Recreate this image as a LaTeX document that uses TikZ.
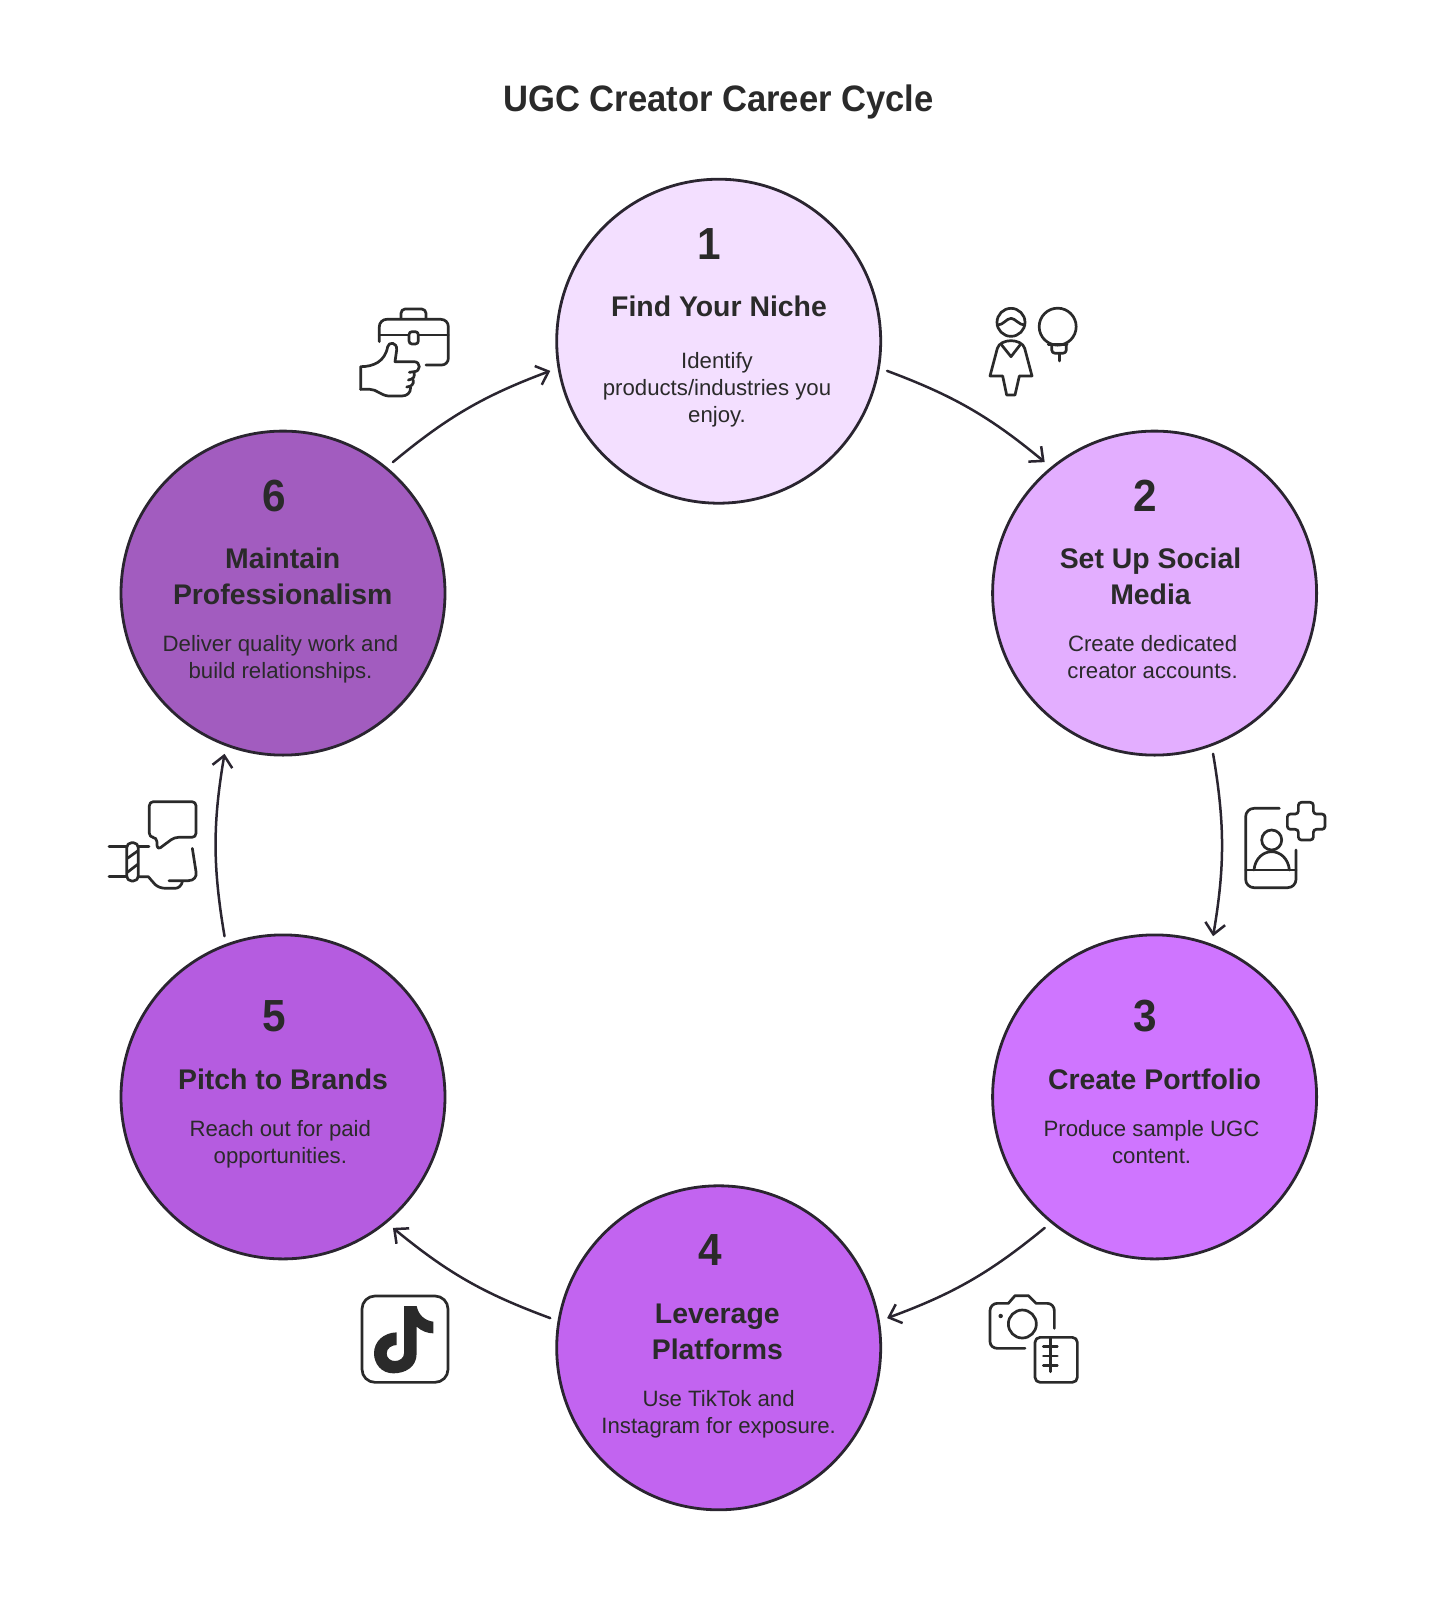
\documentclass[tikz,border=0pt]{standalone}
\usepackage{fontspec}
\setmainfont{Liberation Sans}
\newfontfamily\narrowf[FakeStretch=0.94]{Liberation Sans}
\usetikzlibrary{arrows.meta}
\definecolor{ink}{HTML}{2A2A2A}
\definecolor{edge}{HTML}{2A2530}
\definecolor{ca}{HTML}{F3DFFF}
\definecolor{cb}{HTML}{E3AEFF}
\definecolor{cc}{HTML}{CF75FF}
\definecolor{cd}{HTML}{C264F0}
\definecolor{ce}{HTML}{B55CE0}
\definecolor{cf}{HTML}{A25CBF}
\newcommand\tlines[1]{\begin{tabular}[t]{@{}c@{}}#1\end{tabular}}
\tikzset{
  stage/.style={circle,draw=edge,line width=1.4pt,minimum size=162pt,inner sep=0pt,outer sep=4.5pt},
  txt/.style={inner sep=0pt,outer sep=0pt,anchor=base,text=ink},
  ttl/.style={txt,font=\narrowf\fontsize{18.4}{22}\selectfont\bfseries},
  num/.style={txt,font=\narrowf\fontsize{22.5}{26}\selectfont\bfseries},
  hd/.style={txt,font=\fontsize{14.2}{18}\selectfont\bfseries},
  ds/.style={txt,font=\fontsize{11.1}{13.5}\selectfont},
  link/.style={draw=edge,line width=1.25pt,line cap=round,-{Straight Barb[length=5.5pt,width=10pt,line width=1.25pt]}},
  ico/.style={draw=ink,line width=1.35pt,line cap=round,line join=round},
  zoomed/.style={x=0.16667pt,y=-0.16667pt},
}
\begin{document}
\begin{tikzpicture}[x=0.5pt,y=-0.5pt]
\useasboundingbox (0,0) rectangle (1438,1600);
\node[stage,fill=ca] (c1) at (718.7,341.2) {};
\node[stage,fill=cb] (c2) at (1154.6,593.1) {};
\node[stage,fill=cc] (c3) at (1154.6,1096.9) {};
\node[stage,fill=cd] (c4) at (718.7,1347.8) {};
\node[stage,fill=ce] (c5) at (283,1096.9) {};
\node[stage,fill=cf] (c6) at (283,593.1) {};
\draw[link] (c1.-10) to[bend left=9.6] (c2.130);
\draw[link] (c2.-70) to[bend left=9.6] (c3.70);
\draw[link] (c3.-130) to[bend left=9.6] (c4.10);
\draw[link] (c4.170) to[bend left=9.6] (c5.-50);
\draw[link] (c5.110) to[bend left=9.6] (c6.-110);
\draw[link] (c6.50) to[bend left=9.6] (c1.-170);
\node[ttl] (title) at (718.5,112) {UGC Creator Career Cycle};
\node[num] (n1) at (709.5,259.3) {1};
\node[hd] (h1) at (719,316.7) {\tlines{Find Your Niche}};
\node[ds] (d1) at (717,368) {\tlines{Identify\\products/industries you\\enjoy.}};
\node[num] (n2) at (1145.5,511) {2};
\node[hd] (h2) at (1150.5,568.6) {\tlines{Set Up Social\\Media}};
\node[ds] (d2) at (1152.6,651.8) {\tlines{Create dedicated\\creator accounts.}};
\node[num] (n3) at (1145.5,1031.5) {3};
\node[hd] (h3) at (1154.6,1089.5) {\tlines{Create Portfolio}};
\node[ds] (d3) at (1151.6,1136) {\tlines{Produce sample UGC\\content.}};
\node[num] (n4) at (710.5,1265.8) {4};
\node[hd] (h4) at (717.3,1323.4) {\tlines{Leverage\\Platforms}};
\node[ds] (d4) at (718.6,1406.6) {\tlines{Use TikTok and\\Instagram for exposure.}};
\node[num] (n5) at (274.4,1031.5) {5};
\node[hd] (h5) at (283,1089.5) {\tlines{Pitch to Brands}};
\node[ds] (d5) at (280.3,1136) {\tlines{Reach out for paid\\opportunities.}};
\node[num] (n6) at (274.4,511) {6};
\node[hd] (h6) at (282.7,568.6) {\tlines{Maintain\\Professionalism}};
\node[ds] (d6) at (280.5,651.8) {\tlines{Deliver quality work and\\build relationships.}};
% briefcase and thumb
\begin{scope}[shift={(340,290)},zoomed]
\draw[ico] (118,155) -- (118,110) to[out=90,in=180] (140,88) -- (303,88) to[out=0,in=90] (325,110) -- (325,205) to[out=-90,in=0] (305,225) -- (258,225);
\draw[ico] (118,135) -- (205,135) (235,135) -- (325,135);
\draw[ico,rounded corners=1.5pt] (207,125) rectangle (235,162);
\draw[ico] (183,85) -- (183,70) to[out=90,in=180] (195,57) -- (245,57) to[out=0,in=90] (258,70) -- (258,85);
\draw[ico] (62,298) -- (62,230) .. controls (100,230) and (135,215) .. (143,170) .. controls (146,155) and (172,155) .. (170,180) -- (165,215) -- (222,215) .. controls (243,215) and (243,245) .. (222,245) -- (208,247);
\draw[ico] (222,247) .. controls (225,258) and (222,268) .. (205,270);
\draw[ico] (220,270) .. controls (222,282) and (215,290) .. (200,291);
\draw[ico] (212,292) .. controls (212,310) and (200,318) .. (185,318) -- (145,318) .. controls (120,315) and (110,298) .. (90,298) -- (62,298);
\end{scope}
% person
\begin{scope}[shift={(960,290)},zoomed]
\draw[ico] (153,97) circle[radius=7pt];
\draw[ico] (113,105) .. controls (130,105) and (140,85) .. (153,85) .. controls (166,85) and (176,105) .. (194,105);
\draw[ico] (90,258) -- (112,175) .. controls (116,160) and (135,152) .. (153,152) .. controls (171,152) and (190,160) .. (194,175) -- (216,258) -- (178,258) -- (165,315) -- (140,315) -- (128,258) -- cycle;
\draw[ico] (125,165) -- (153,200) -- (180,165);
\end{scope}
% bulb
\begin{scope}[shift={(1030,300)},zoomed]
\draw[ico] (83,80) circle[radius=9.25pt];
\draw[ico] (55,133) -- (111,133);
\draw[ico] (65,133) -- (65,150) to[out=-90,in=180] (76,160) -- (98,160) to[out=0,in=-90] (109,150) -- (109,133);
\draw[ico] (88,160) -- (88,183);
\end{scope}
% profile plus
\begin{scope}[shift={(1230,790)},zoomed]
\draw[ico] (148,55) -- (72,55) to[out=180,in=90] (47,80) -- (47,268) to[out=-90,in=180] (72,293) -- (173,293) to[out=0,in=-90] (198,268) -- (198,180);
\draw[ico] (47,240) -- (198,240);
\draw[ico] (125,150) circle[radius=5pt];
\draw[ico] (72,240) .. controls (75,205) and (100,185) .. (125,185) .. controls (150,185) and (175,205) .. (178,240);
\draw[ico,rounded corners=1.5pt] (205,37) -- (250,37) -- (250,72) -- (285,72) -- (285,118) -- (250,118) -- (250,150) -- (205,150) -- (205,118) -- (172,118) -- (172,72) -- (205,72) -- cycle;
\end{scope}
% camera
\begin{scope}[shift={(960,1260)},zoomed]
\draw[ico] (195,265) -- (112,265) to[out=180,in=-90] (90,245) -- (90,152) to[out=90,in=180] (112,130) -- (145,130) -- (165,107) -- (205,107) -- (228,130) -- (262,130) to[out=0,in=90] (283,152) -- (283,205);
\draw[ico] (187,192) circle[radius=7pt];
\fill[ink] (122,168) circle[radius=1.1pt];
\end{scope}
% notebook
\begin{scope}[shift={(1020,1320)},zoomed]
\draw[ico,rounded corners=2.5pt] (45,52) rectangle (172,187);
\draw[ico] (92,55) -- (92,155);
\draw[ico] (70,80) -- (112,80) (70,108) -- (112,108) (70,136) -- (112,136);
\end{scope}
% tiktok
\begin{scope}[shift={(350,1290)},zoomed]
\draw[ico,rounded corners=6.5pt] (36,18) rectangle (294,277);
\fill[ink] (162,48) -- (200,48) .. controls (205,75) and (225,92) .. (250,95) -- (250,130) .. controls (232,130) and (215,123) .. (200,110) -- (200,190) .. controls (200,232) and (165,250) .. (130,250) .. controls (95,250) and (72,222) .. (72,190) .. controls (72,155) and (100,128) .. (140,127) -- (140,165) .. controls (125,165) and (110,175) .. (110,190) .. controls (110,205) and (122,213) .. (135,213) .. controls (150,213) and (162,203) .. (162,190) -- cycle;
\end{scope}
% speech and hand
\begin{scope}[shift={(95,775)},zoomed]
\draw[ico,rounded corners=2pt] (163,80) -- (303,80) -- (303,187) -- (238,187) -- (187,225) -- (185,187) -- (163,187) -- cycle;
\draw[ico,rounded corners=2.5pt] (95,203) rectangle (130,318);
\draw[ico] (97,250) -- (128,228) (97,292) -- (128,268);
\draw[ico] (42,215) -- (95,215) (130,215) -- (162,215);
\draw[ico] (42,305) -- (95,305);
\draw[ico] (130,305) -- (160,305) .. controls (175,320) and (180,340) .. (215,340) -- (240,340) .. controls (252,340) and (260,330) .. (262,320);
\draw[ico] (222,317) -- (280,317) .. controls (297,317) and (306,305) .. (303,290) -- (292,220);
\end{scope}
\end{tikzpicture}
\end{document}
